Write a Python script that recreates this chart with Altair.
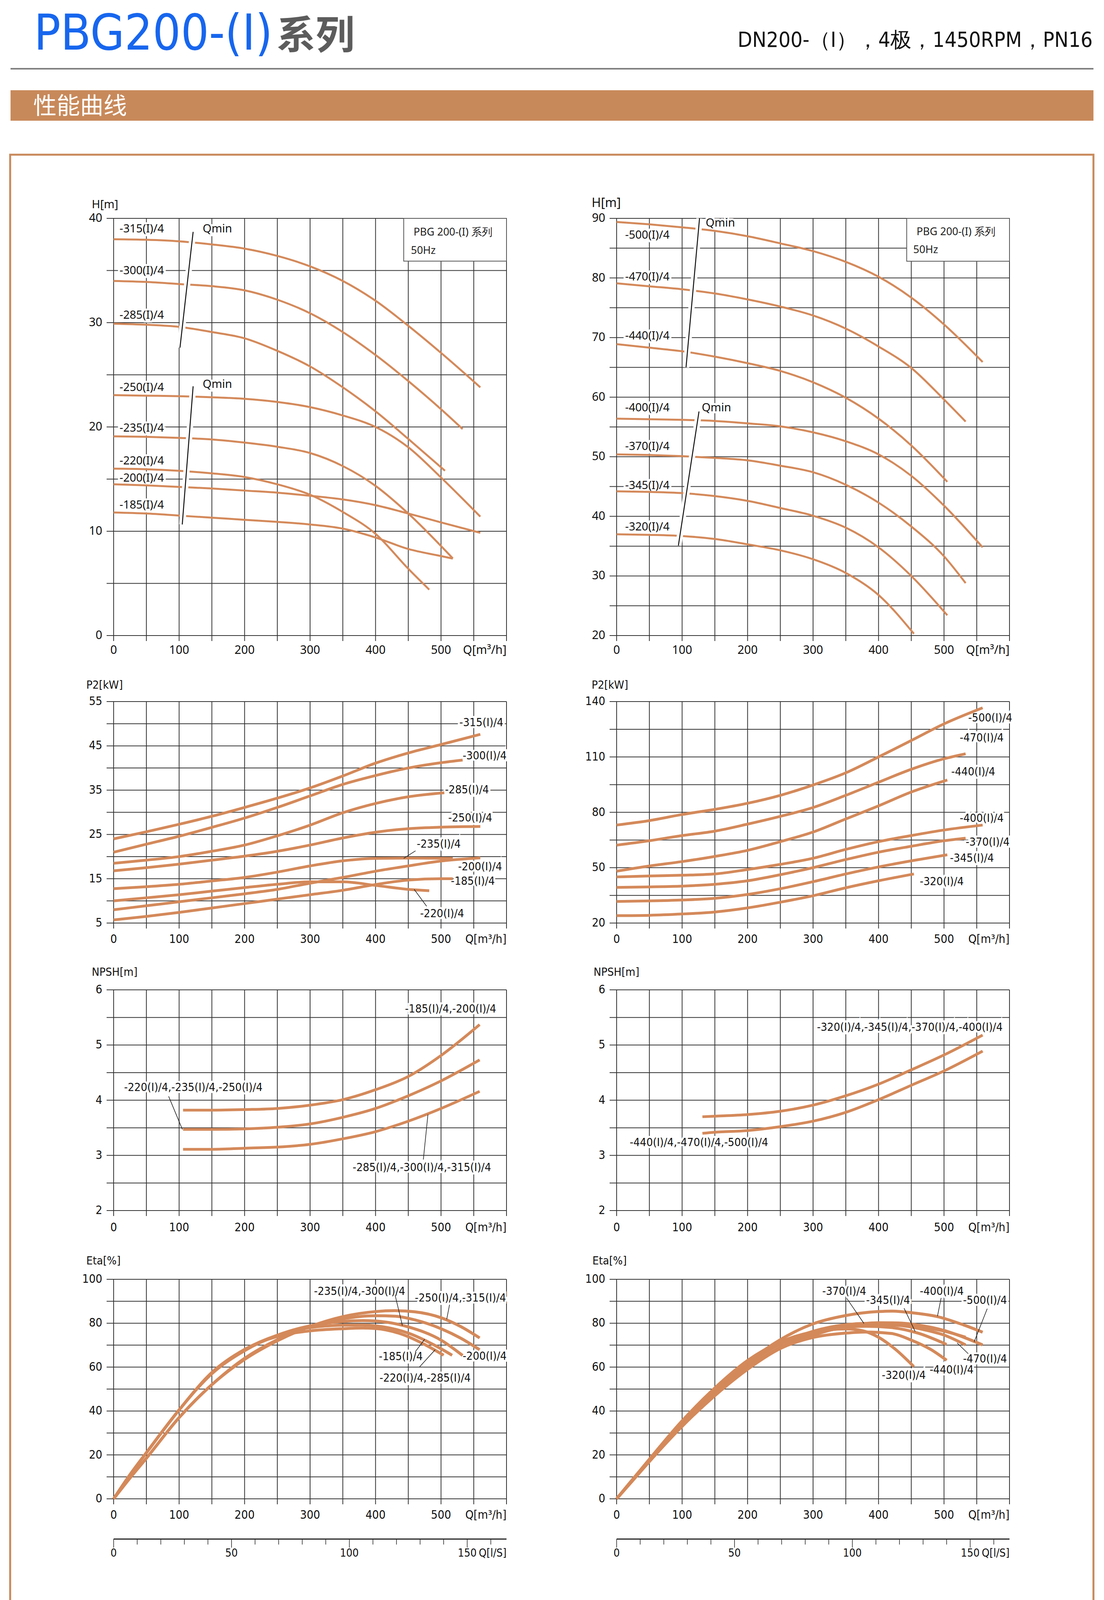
import altair as alt
import pandas as pd

# ---------------- colours / fonts ----------------
CURVE = "#d4895a"
BAND = "#c8895a"
GRID = "#333333"
INK = "#111111"
BLUE = "#1766ee"
F_NORM = "Noto Sans, Open Sans, DejaVu Sans, sans-serif"
F_COND = "DejaVu Sans Condensed, Liberation Sans Narrow, Noto Sans, sans-serif"
F_CJK = "Noto Sans CJK SC, Noto Sans, sans-serif"

# ---------------- axis values ----------------
Q_GRID = [0, 50, 100, 150, 200, 250, 300, 350, 400, 450, 500, 550, 600]
Q_TICKS = [0, 100, 200, 300, 400, 500]
Q_MAX = 600
LS_MAX = 600 / 3.6
LS_MINOR = [10, 20, 30, 40, 60, 70, 80, 90, 110, 120, 130, 140, 160]
LS_MAJOR = [0, 50, 100, 150]

HL_YGRID = [0, 5, 10, 15, 20, 25, 30, 35, 40]
HL_YTICKS = [0, 10, 20, 30, 40]
HR_YGRID = [20, 25, 30, 35, 40, 45, 50, 55, 60, 65, 70, 75, 80, 85, 90]
HR_YTICKS = [20, 30, 40, 50, 60, 70, 80, 90]
PL_YGRID = [5, 10, 15, 20, 25, 30, 35, 40, 45, 50, 55]
PL_YTICKS = [5, 15, 25, 35, 45, 55]
PR_YGRID = [20, 35, 50, 65, 80, 95, 110, 125, 140]
PR_YTICKS = [20, 50, 80, 110, 140]
N_YGRID = [2, 2.5, 3, 3.5, 4, 4.5, 5, 5.5, 6]
N_YTICKS = [2, 3, 4, 5, 6]
E_YGRID = [0, 10, 20, 30, 40, 50, 60, 70, 80, 90, 100]
E_YTICKS = [0, 20, 40, 60, 80, 100]

# ---------------- H curves, left ----------------
HL_315 = [(0, 38.0), (50, 37.95), (100, 37.8), (150, 37.5), (200, 37.1), (250, 36.4), (300, 35.4), (350, 34.0), (400, 32.1), (450, 29.7), (500, 27.1), (560, 23.8)]
HL_300 = [(0, 34.0), (50, 33.9), (100, 33.7), (150, 33.5), (200, 33.1), (250, 32.2), (300, 30.9), (350, 29.1), (400, 26.9), (450, 24.4), (500, 21.7), (533, 19.8)]
HL_285 = [(0, 29.9), (50, 29.8), (100, 29.6), (150, 29.1), (200, 28.5), (250, 27.3), (300, 25.8), (350, 23.8), (400, 21.5), (450, 18.85), (506, 15.8)]
HL_250 = [(0, 23.05), (50, 23.0), (100, 22.95), (150, 22.85), (200, 22.7), (250, 22.4), (300, 21.9), (350, 21.1), (400, 20.0), (450, 18.05), (500, 15.15), (560, 11.4)]
HL_235 = [(0, 19.1), (50, 19.05), (100, 18.95), (150, 18.8), (200, 18.5), (250, 18.1), (300, 17.5), (350, 16.25), (400, 14.35), (450, 11.7), (518, 7.4)]
HL_220 = [(0, 16.0), (50, 15.95), (100, 15.8), (150, 15.55), (200, 15.2), (250, 14.5), (300, 13.5), (350, 11.85), (400, 9.75), (450, 6.4), (482, 4.4)]
HL_200 = [(0, 14.5), (50, 14.4), (100, 14.25), (150, 14.1), (200, 13.9), (250, 13.7), (300, 13.4), (350, 13.05), (400, 12.5), (450, 11.7), (500, 10.85), (560, 9.85)]
HL_185 = [(0, 11.8), (50, 11.7), (100, 11.5), (150, 11.3), (200, 11.1), (250, 10.9), (300, 10.65), (350, 10.25), (400, 9.4), (450, 8.3), (500, 7.62), (518, 7.38)]

# ---------------- H curves, right ----------------
HR_500 = [(0, 89.4), (50, 89.0), (100, 88.5), (150, 87.9), (200, 87.0), (250, 85.8), (300, 84.5), (350, 82.7), (400, 80.2), (450, 76.7), (500, 72.2), (559, 65.9)]
HR_470 = [(0, 79.1), (50, 78.6), (100, 78.1), (150, 77.4), (200, 76.4), (250, 75.2), (300, 73.7), (350, 71.5), (400, 68.5), (450, 64.9), (500, 59.6), (533, 55.9)]
HR_440 = [(0, 68.9), (50, 68.3), (100, 67.7), (150, 66.8), (200, 65.7), (250, 64.4), (300, 62.5), (350, 59.9), (400, 56.4), (450, 51.9), (505, 45.8)]
HR_400 = [(0, 56.4), (50, 56.3), (100, 56.2), (150, 56.0), (200, 55.6), (250, 55.1), (300, 54.1), (350, 52.6), (400, 50.4), (450, 46.8), (500, 41.8), (559, 34.8)]
HR_370 = [(0, 50.4), (50, 50.3), (100, 50.1), (150, 49.8), (200, 49.4), (250, 48.5), (300, 47.4), (350, 45.3), (400, 42.3), (450, 38.3), (500, 33.3), (533, 28.8)]
HR_345 = [(0, 44.2), (50, 44.1), (100, 43.9), (150, 43.4), (200, 42.6), (250, 41.4), (300, 40.1), (350, 38.1), (400, 34.8), (450, 30.0), (505, 23.4)]
HR_320 = [(0, 37.0), (50, 36.9), (100, 36.7), (150, 36.2), (200, 35.3), (250, 34.3), (300, 32.8), (350, 30.5), (400, 26.8), (454, 20.3)]

# ---------------- P2 curves ----------------
PL_315 = [(0, 24.0), (50, 25.6), (100, 27.3), (150, 29.1), (200, 31.1), (250, 33.2), (300, 35.5), (350, 38.2), (400, 41.1), (450, 43.4), (500, 45.3), (560, 47.6)]
PL_300 = [(0, 21.0), (50, 22.8), (100, 24.6), (150, 26.6), (200, 28.7), (250, 31.1), (300, 33.7), (350, 36.3), (400, 38.3), (450, 40.0), (500, 41.2), (533, 41.8)]
PL_285 = [(0, 18.5), (50, 19.2), (100, 20.0), (150, 21.2), (200, 22.6), (250, 24.7), (300, 27.1), (350, 29.9), (400, 32.0), (450, 33.5), (505, 34.4)]
PL_250 = [(0, 16.8), (50, 17.5), (100, 18.3), (150, 19.2), (200, 20.1), (250, 21.2), (300, 22.6), (350, 24.2), (400, 25.5), (450, 26.3), (500, 26.65), (560, 26.8)]
PL_235 = [(0, 12.75), (50, 13.2), (100, 13.75), (150, 14.5), (200, 15.3), (250, 16.5), (300, 17.9), (350, 19.05), (400, 19.6), (450, 19.65), (518, 19.6)]
PL_220 = [(0, 10.0), (50, 10.7), (100, 11.4), (150, 12.2), (200, 13.0), (250, 13.75), (300, 14.3), (350, 14.3), (400, 13.5), (450, 12.6), (482, 12.3)]
PL_200 = [(0, 8.0), (50, 8.9), (100, 9.8), (150, 10.7), (200, 11.6), (250, 12.6), (300, 14.0), (350, 15.3), (400, 16.7), (450, 17.9), (500, 19.0), (560, 19.7)]
PL_185 = [(0, 5.7), (50, 6.5), (100, 7.4), (150, 8.4), (200, 9.4), (250, 10.4), (300, 11.4), (350, 12.4), (400, 13.7), (450, 14.7), (500, 15.0), (518, 15.0)]

PR_500 = [(0, 73.1), (50, 75.5), (100, 78.8), (150, 81.6), (200, 84.9), (250, 89.2), (300, 94.8), (350, 101.4), (400, 110.0), (450, 118.9), (500, 127.9), (559, 136.6)]
PR_470 = [(0, 62.2), (50, 64.6), (100, 67.4), (150, 69.8), (200, 73.6), (250, 77.8), (300, 82.6), (350, 89.2), (400, 96.3), (450, 103.3), (500, 109.0), (533, 111.7)]
PR_440 = [(0, 48.1), (50, 50.9), (100, 53.3), (150, 56.1), (200, 59.4), (250, 64.1), (300, 69.3), (350, 76.4), (400, 83.5), (450, 91.0), (505, 97.5)]
PR_400 = [(0, 45.0), (50, 45.5), (100, 45.9), (150, 46.6), (200, 49.0), (250, 51.8), (300, 55.1), (350, 59.9), (400, 64.1), (450, 67.4), (500, 70.4), (559, 73.1)]
PR_370 = [(0, 39.3), (50, 39.6), (100, 40.0), (150, 41.0), (200, 42.9), (250, 46.2), (300, 50.0), (350, 54.4), (400, 58.4), (450, 61.6), (500, 64.6), (533, 66.0)]
PR_345 = [(0, 31.7), (50, 32.0), (100, 32.5), (150, 33.4), (200, 35.5), (250, 38.6), (300, 42.4), (350, 46.6), (400, 50.4), (450, 53.7), (505, 57.0)]
PR_320 = [(0, 24.0), (50, 24.2), (100, 24.9), (150, 26.0), (200, 28.2), (250, 31.3), (300, 34.8), (350, 39.1), (400, 42.9), (454, 46.6)]

# ---------------- NPSH curves ----------------
NL_185_200 = [(106, 3.82), (150, 3.82), (200, 3.83), (250, 3.85), (300, 3.91), (350, 4.01), (400, 4.19), (450, 4.43), (500, 4.81), (559, 5.37)]
NL_220_250 = [(106, 3.47), (150, 3.47), (200, 3.48), (250, 3.51), (300, 3.57), (350, 3.69), (400, 3.85), (450, 4.08), (500, 4.35), (559, 4.73)]
NL_285_315 = [(106, 3.11), (150, 3.11), (200, 3.13), (250, 3.15), (300, 3.20), (350, 3.30), (400, 3.43), (450, 3.62), (500, 3.85), (559, 4.16)]
NR_320_400 = [(131, 3.70), (150, 3.71), (200, 3.74), (250, 3.80), (300, 3.91), (350, 4.08), (400, 4.29), (450, 4.55), (500, 4.82), (559, 5.18)]
NR_440_500 = [(131, 3.40), (150, 3.42), (200, 3.45), (250, 3.52), (300, 3.62), (350, 3.78), (400, 4.01), (450, 4.27), (500, 4.53), (559, 4.89)]

# ---------------- Eta curves ----------------
EL_250_315 = [(0, 0), (25, 9.5), (50, 18.5), (100, 37), (150, 52), (200, 63.5), (250, 72), (300, 78.5), (350, 83), (400, 85.3), (430, 85.7), (460, 85.2), (500, 82.5), (530, 78.5), (559, 73.3)]
EL_200 = [(0, 0), (25, 9.5), (50, 18.5), (100, 37), (150, 52), (200, 64), (250, 72.5), (300, 78.5), (350, 82), (400, 83.4), (430, 83.2), (460, 81.5), (500, 77.5), (530, 73.2), (559, 67.9)]
EL_235_300 = [(0, 0), (25, 11), (50, 21), (100, 40.5), (150, 57), (200, 67.5), (250, 74.5), (300, 78.8), (350, 80.8), (380, 81.2), (400, 81.0), (450, 78.3), (500, 72.3), (533, 65.3)]
EL_185 = [(0, 0), (25, 11), (50, 21), (100, 40.5), (150, 57.5), (200, 68), (250, 74.5), (300, 78), (350, 79.1), (380, 79.2), (400, 78.8), (450, 75.5), (490, 70), (517, 65.4)]
EL_220_285 = [(0, 0), (25, 11), (50, 21), (100, 40.5), (150, 57.5), (200, 68), (250, 74), (300, 76.5), (350, 77.5), (380, 77.8), (400, 77.6), (440, 75), (475, 70.3), (504, 65.4)]

ER_400 = [(0, 0), (25, 9), (50, 17.5), (100, 34), (150, 48.5), (200, 62), (250, 72.5), (300, 79.7), (350, 83.5), (400, 85.3), (420, 85.5), (450, 84.8), (490, 83), (530, 79.2), (559, 75.9)]
ER_500 = [(0, 0), (25, 8.5), (50, 17), (100, 33), (150, 47), (200, 59), (250, 68.5), (300, 74.5), (350, 78.5), (400, 80.2), (430, 80.1), (460, 79.2), (500, 76.7), (530, 73.6), (559, 70.1)]
ER_370 = [(0, 0), (25, 9), (50, 18), (100, 35), (150, 49.5), (200, 61.5), (250, 70.5), (300, 76.3), (350, 79.3), (380, 79.9), (420, 79.8), (460, 78.5), (500, 76.4), (533, 73.6)]
ER_470 = [(0, 0), (25, 9), (50, 17.5), (100, 34), (150, 48), (200, 60), (250, 69), (300, 75), (350, 78), (400, 79.2), (430, 79), (470, 77), (500, 74.6), (533, 70.1)]
ER_345 = [(0, 0), (25, 9), (50, 18), (100, 35.5), (150, 50), (200, 62), (250, 70.5), (300, 75.8), (350, 78.3), (380, 78.6), (420, 78), (460, 75.5), (504, 70.3)]
ER_440 = [(0, 0), (25, 8.5), (50, 17), (100, 33.5), (150, 47.5), (200, 59.5), (250, 68.5), (300, 73.5), (350, 75.5), (380, 76), (420, 75.3), (450, 72.3), (480, 68), (504, 63.1)]
ER_320 = [(0, 0), (25, 9), (50, 18), (100, 35.5), (150, 50.5), (200, 63), (250, 71.5), (300, 76), (350, 77.4), (375, 76.6), (400, 73.6), (425, 68.3), (454, 60.2)]

# ---------------- annotations (q, value, text) ----------------
HL_LABELS = [(9, 39.0, "-315(I)/4"), (9, 35.0, "-300(I)/4"), (9, 30.7, "-285(I)/4"), (9, 23.8, "-250(I)/4"),
             (9, 19.9, "-235(I)/4"), (9, 16.75, "-220(I)/4"), (9, 15.1, "-200(I)/4"), (9, 12.5, "-185(I)/4"),
             (136, 39.0, "Qmin"), (136, 24.1, "Qmin")]
HL_QMIN = [(121.4, 38.7, 101.3, 27.6), (121.4, 23.9, 104.8, 10.65)]
HL_BOX = (443, 600, 35.9, 40)
HL_BOX_TEXT = [(458, 38.65, "PBG 200-(I) 系列"), (454, 36.9, "50Hz")]

HR_LABELS = [(13, 87.2, "-500(I)/4"), (13, 80.2, "-470(I)/4"), (13, 70.3, "-440(I)/4"), (13, 58.2, "-400(I)/4"),
             (13, 51.7, "-370(I)/4"), (13, 45.2, "-345(I)/4"), (13, 38.2, "-320(I)/4"),
             (136, 89.2, "Qmin"), (130, 58.2, "Qmin")]
HR_QMIN = [(126.6, 90.0, 106.0, 65.0), (125.8, 57.6, 94.3, 35.1)]
HR_BOX = (443, 600, 82.8, 90)
HR_BOX_TEXT = [(458, 87.7, "PBG 200-(I) 系列"), (453, 84.7, "50Hz")]

PL_LABELS = [(528, 50.2, "-315(I)/4"), (533, 42.7, "-300(I)/4"), (506, 35.1, "-285(I)/4"), (511, 28.7, "-250(I)/4"),
             (463, 22.8, "-235(I)/4"), (526, 17.7, "-200(I)/4"), (515, 14.45, "-185(I)/4"), (468, 7.1, "-220(I)/4")]
PL_LEADERS = [(461, 21.3, 443, 19.6), (478, 8.8, 459, 12.6)]
PR_LABELS = [(537, 131.2, "-500(I)/4"), (524, 120.3, "-470(I)/4"), (511, 101.9, "-440(I)/4"), (524, 76.7, "-400(I)/4"),
             (533, 63.8, "-370(I)/4"), (509, 55.1, "-345(I)/4"), (463, 42.4, "-320(I)/4")]

NL_LABELS = [(445, 5.65, "-185(I)/4,-200(I)/4"), (16, 4.23, "-220(I)/4,-235(I)/4,-250(I)/4"),
             (365, 2.78, "-285(I)/4,-300(I)/4,-315(I)/4")]
NL_LEADERS = [(84, 4.07, 105, 3.47), (473, 2.925, 480, 3.74)]
NR_LABELS = [(306, 5.32, "-320(I)/4,-345(I)/4,-370(I)/4,-400(I)/4"), (20, 3.23, "-440(I)/4,-470(I)/4,-500(I)/4")]

EL_LABELS = [(306, 94.4, "-235(I)/4,-300(I)/4"), (460, 91.5, "-250(I)/4,-315(I)/4"), (405, 64.7, "-185(I)/4"),
             (533, 64.9, "-200(I)/4"), (406, 55.0, "-220(I)/4,-285(I)/4")]
EL_LEADERS = [(430, 92.6, 441, 78.9), (513, 88.4, 508.7, 81.8), (460.7, 67.0, 475, 72.7), (467, 60.0, 491, 67.9)]
ER_LABELS = [(314, 94.4, "-370(I)/4"), (381, 90.4, "-345(I)/4"), (463, 94.4, "-400(I)/4"), (529, 90.4, "-500(I)/4"),
             (529, 63.7, "-470(I)/4"), (478, 58.7, "-440(I)/4"), (405, 56.2, "-320(I)/4")]
ER_LEADERS = [(351.5, 91.3, 377.7, 79.9), (439, 86.8, 456, 76.2), (495.6, 91.5, 490, 83.2),
              (566, 86.6, 546, 71.5), (537, 66.1, 520, 71.0)]

# ---------------- layout (canvas px) ----------------
COLS = {"L": (283, 1289), "R": (1571, 2577)}
ROWS = {"H": (551, 1619), "P": (1788, 2355), "N": (2526, 3091), "E": (3267, 3829)}
LS_Y = 3932
ONE = pd.DataFrame({"k": [0]})


def fmt(v):
    return str(int(v)) if float(v).is_integer() else str(v)


def build_panel(col, row, ydom, ygrid, yticks, curves, sw, labels, lab_font, lab_fs,
                tick_font, tick_fs, title, title_fs, title_dx, title_dy, xlab_dy,
                leaders=(), qmin=(), box=None, box_text=()):
    x0, x1 = COLS[col]
    yt, yb = ROWS[row]
    xs = alt.Scale(domain=[0, Q_MAX], range=[x0, x1], nice=False, zero=False)
    ys = alt.Scale(domain=[ydom[0], ydom[1]], range=[yb, yt], nice=False, zero=False)

    def X(f):
        return alt.X(f, type="quantitative", scale=xs, axis=None)

    def Y(f):
        return alt.Y(f, type="quantitative", scale=ys, axis=None)

    def XD(d):
        return alt.XDatum(d, type="quantitative", scale=xs, axis=None)

    def YD(d):
        return alt.YDatum(d, type="quantitative", scale=ys, axis=None)

    L = []
    L.append(alt.Chart(pd.DataFrame({"q": Q_GRID})).mark_rule(color=GRID, strokeWidth=2, y2Offset=14)
             .encode(x=X("q"), y=YD(ydom[1]), y2=alt.Y2Datum(ydom[0])))
    L.append(alt.Chart(pd.DataFrame({"v": ygrid})).mark_rule(color=GRID, strokeWidth=2, xOffset=-18)
             .encode(x=XD(0), x2=alt.X2Datum(Q_MAX), y=Y("v")))
    if box is not None:
        L.append(alt.Chart(ONE).mark_rect(fill="white", stroke="#555555", strokeWidth=2)
                 .encode(x=XD(box[0]), x2=alt.X2Datum(box[1]), y=YD(box[2]), y2=alt.Y2Datum(box[3])))
        bt = pd.DataFrame(list(box_text), columns=["q", "v", "t"])
        L.append(alt.Chart(bt).mark_text(align="left", baseline="middle", font=F_NORM, fontSize=27, color="#222222")
                 .encode(x=X("q"), y=Y("v"), text="t:N"))
    lab = pd.DataFrame(list(labels), columns=["q", "v", "t"])
    L.append(alt.Chart(lab).mark_text(align="left", baseline="middle", font=lab_font, fontSize=lab_fs,
                                      color="white", stroke="white", strokeWidth=10)
             .encode(x=X("q"), y=Y("v"), text="t:N"))
    rows = [{"s": n, "q": q, "v": v} for n, pts in curves.items() for q, v in pts]
    L.append(alt.Chart(pd.DataFrame(rows)).mark_line(color=CURVE, strokeWidth=sw, interpolate="monotone")
             .encode(x=X("q"), y=Y("v"), detail="s:N"))
    if qmin:
        qd = pd.DataFrame(list(qmin), columns=["q1", "v1", "q2", "v2"])
        L.append(alt.Chart(qd).mark_rule(color="white", strokeWidth=16)
                 .encode(x=X("q1"), y=Y("v1"), x2="q2:Q", y2="v2:Q"))
        L.append(alt.Chart(qd).mark_rule(color=INK, strokeWidth=2.5)
                 .encode(x=X("q1"), y=Y("v1"), x2="q2:Q", y2="v2:Q"))
    if leaders:
        ld = pd.DataFrame(list(leaders), columns=["q1", "v1", "q2", "v2"])
        L.append(alt.Chart(ld).mark_rule(color="#222222", strokeWidth=1.6)
                 .encode(x=X("q1"), y=Y("v1"), x2="q2:Q", y2="v2:Q"))
    L.append(alt.Chart(lab).mark_text(align="left", baseline="middle", font=lab_font, fontSize=lab_fs, color=INK)
             .encode(x=X("q"), y=Y("v"), text="t:N"))
    xt = pd.DataFrame({"q": Q_TICKS, "t": [fmt(v) for v in Q_TICKS]})
    L.append(alt.Chart(xt).mark_text(align="center", baseline="middle", dy=xlab_dy, font=tick_font,
                                     fontSize=tick_fs, color=INK)
             .encode(x=X("q"), y=YD(ydom[0]), text="t:N"))
    L.append(alt.Chart(ONE).mark_text(text="Q[m³/h]", align="right", baseline="middle", dy=xlab_dy,
                                      font=tick_font, fontSize=tick_fs, color=INK)
             .encode(x=XD(Q_MAX), y=YD(ydom[0])))
    ytk = pd.DataFrame({"v": yticks, "t": [fmt(v) for v in yticks]})
    L.append(alt.Chart(ytk).mark_text(align="right", baseline="middle", dx=-29, font=tick_font,
                                      fontSize=tick_fs, color=INK)
             .encode(x=XD(0), y=Y("v"), text="t:N"))
    L.append(alt.Chart(ONE).mark_text(text=title, align="left", baseline="middle", dx=title_dx, dy=title_dy,
                                      font=tick_font, fontSize=title_fs, color=INK)
             .encode(x=XD(0), y=YD(ydom[1])))
    return alt.layer(*L)


def ls_axis(col):
    x0, x1 = COLS[col]
    xs = alt.Scale(domain=[0, LS_MAX], range=[x0, x1], nice=False, zero=False)

    def X(f):
        return alt.X(f, type="quantitative", scale=xs, axis=None)

    L = [
        alt.Chart(ONE).mark_rule(color="#222222", strokeWidth=3)
        .encode(x=alt.XDatum(0, type="quantitative", scale=xs, axis=None), x2=alt.X2Datum(LS_MAX), y=alt.value(LS_Y)),
        alt.Chart(pd.DataFrame({"q": LS_MINOR})).mark_rule(color="#222222", strokeWidth=1.5)
        .encode(x=X("q"), y=alt.value(LS_Y), y2=alt.value(LS_Y + 14)),
        alt.Chart(pd.DataFrame({"q": LS_MAJOR})).mark_rule(color="#222222", strokeWidth=1.5)
        .encode(x=X("q"), y=alt.value(LS_Y), y2=alt.value(LS_Y + 22)),
        alt.Chart(pd.DataFrame({"q": LS_MAJOR, "t": [fmt(v) for v in LS_MAJOR]}))
        .mark_text(align="center", baseline="middle", font=F_COND, fontSize=28, color=INK)
        .encode(x=X("q"), y=alt.value(LS_Y + 37), text="t:N"),
        alt.Chart(ONE).mark_text(text="Q[l/S]", align="right", baseline="middle", font=F_COND, fontSize=28, color=INK)
        .encode(x=alt.XDatum(LS_MAX, type="quantitative", scale=xs, axis=None), y=alt.value(LS_Y + 37)),
    ]
    return alt.layer(*L)


panels = [
    build_panel("L", "H", (0, 40), HL_YGRID, HL_YTICKS,
                {"315": HL_315, "300": HL_300, "285": HL_285, "250": HL_250, "235": HL_235,
                 "220": HL_220, "200": HL_200, "185": HL_185},
                5, HL_LABELS, F_NORM, 29, F_NORM, 30, "H[m]", 29, -56, -35, 38,
                qmin=HL_QMIN, box=HL_BOX, box_text=HL_BOX_TEXT),
    build_panel("R", "H", (20, 90), HR_YGRID, HR_YTICKS,
                {"500": HR_500, "470": HR_470, "440": HR_440, "400": HR_400, "370": HR_370,
                 "345": HR_345, "320": HR_320},
                5, HR_LABELS, F_NORM, 29, F_NORM, 30, "H[m]", 32, -64, -39, 38,
                qmin=HR_QMIN, box=HR_BOX, box_text=HR_BOX_TEXT),
    build_panel("L", "P", (5, 55), PL_YGRID, PL_YTICKS,
                {"315": PL_315, "300": PL_300, "285": PL_285, "250": PL_250, "235": PL_235,
                 "220": PL_220, "200": PL_200, "185": PL_185},
                7, PL_LABELS, F_COND, 29, F_COND, 30, "P2[kW]", 29, -70, -42, 42, leaders=PL_LEADERS),
    build_panel("R", "P", (20, 140), PR_YGRID, PR_YTICKS,
                {"500": PR_500, "470": PR_470, "440": PR_440, "400": PR_400, "370": PR_370,
                 "345": PR_345, "320": PR_320},
                7, PR_LABELS, F_COND, 29, F_COND, 30, "P2[kW]", 29, -64, -42, 42),
    build_panel("L", "N", (2, 6), N_YGRID, N_YTICKS,
                {"a": NL_185_200, "b": NL_220_250, "c": NL_285_315},
                7, NL_LABELS, F_COND, 29, F_COND, 30, "NPSH[m]", 29, -56, -45, 44, leaders=NL_LEADERS),
    build_panel("R", "N", (2, 6), N_YGRID, N_YTICKS,
                {"a": NR_320_400, "b": NR_440_500},
                7, NR_LABELS, F_COND, 29, F_COND, 30, "NPSH[m]", 29, -59, -45, 44),
    build_panel("L", "E", (0, 100), E_YGRID, E_YTICKS,
                {"a": EL_250_315, "b": EL_200, "c": EL_235_300, "d": EL_185, "e": EL_220_285},
                7.5, EL_LABELS, F_COND, 29, F_COND, 30, "Eta[%]", 29, -70, -47, 42, leaders=EL_LEADERS),
    build_panel("R", "E", (0, 100), E_YGRID, E_YTICKS,
                {"400": ER_400, "500": ER_500, "370": ER_370, "470": ER_470, "345": ER_345,
                 "440": ER_440, "320": ER_320},
                7.5, ER_LABELS, F_COND, 29, F_COND, 30, "Eta[%]", 29, -62, -47, 42, leaders=ER_LEADERS),
    ls_axis("L"),
    ls_axis("R"),
]

header = [
    alt.Chart(ONE).mark_text(text="PBG200-(I)", font=F_COND, fontSize=126, color=BLUE,
                             align="left", baseline="alphabetic")
    .encode(x=alt.value(79), y=alt.value(119)),
    alt.Chart(ONE).mark_text(text="系列", font=F_CJK, fontSize=100, fontWeight="bold", color="#5c5c5c",
                             align="left", baseline="alphabetic")
    .encode(x=alt.value(700), y=alt.value(117)),
    alt.Chart(ONE).mark_text(text="DN200-（Ⅰ），4极，1450RPM，PN16", font=F_COND, fontSize=54, color=INK,
                             align="right", baseline="alphabetic")
    .encode(x=alt.value(2790), y=alt.value(112)),
    alt.Chart(ONE).mark_rule(color="#808080", strokeWidth=4)
    .encode(x=alt.value(19), x2=alt.value(2792), y=alt.value(168)),
    alt.Chart(ONE).mark_rect(color=BAND)
    .encode(x=alt.value(19), x2=alt.value(2792), y=alt.value(223), y2=alt.value(301)),
    alt.Chart(ONE).mark_text(text="性能曲线", font=F_CJK, fontSize=60, color="white",
                             align="left", baseline="alphabetic")
    .encode(x=alt.value(77), y=alt.value(284)),
    alt.Chart(ONE).mark_rect(fillOpacity=0, stroke=BAND, strokeWidth=5)
    .encode(x=alt.value(18), x2=alt.value(2792), y=alt.value(388), y2=alt.value(4105)),
]

chart = (
    alt.layer(*header, *panels)
    .resolve_scale(x="independent", y="independent")
    .properties(width=2811, height=4115, autosize=alt.AutoSizeParams(type="none"), padding=0,
                background="white")
    .configure_view(stroke=None)
)

chart.save("out.html", embed_options={"renderer": "svg", "actions": False})
